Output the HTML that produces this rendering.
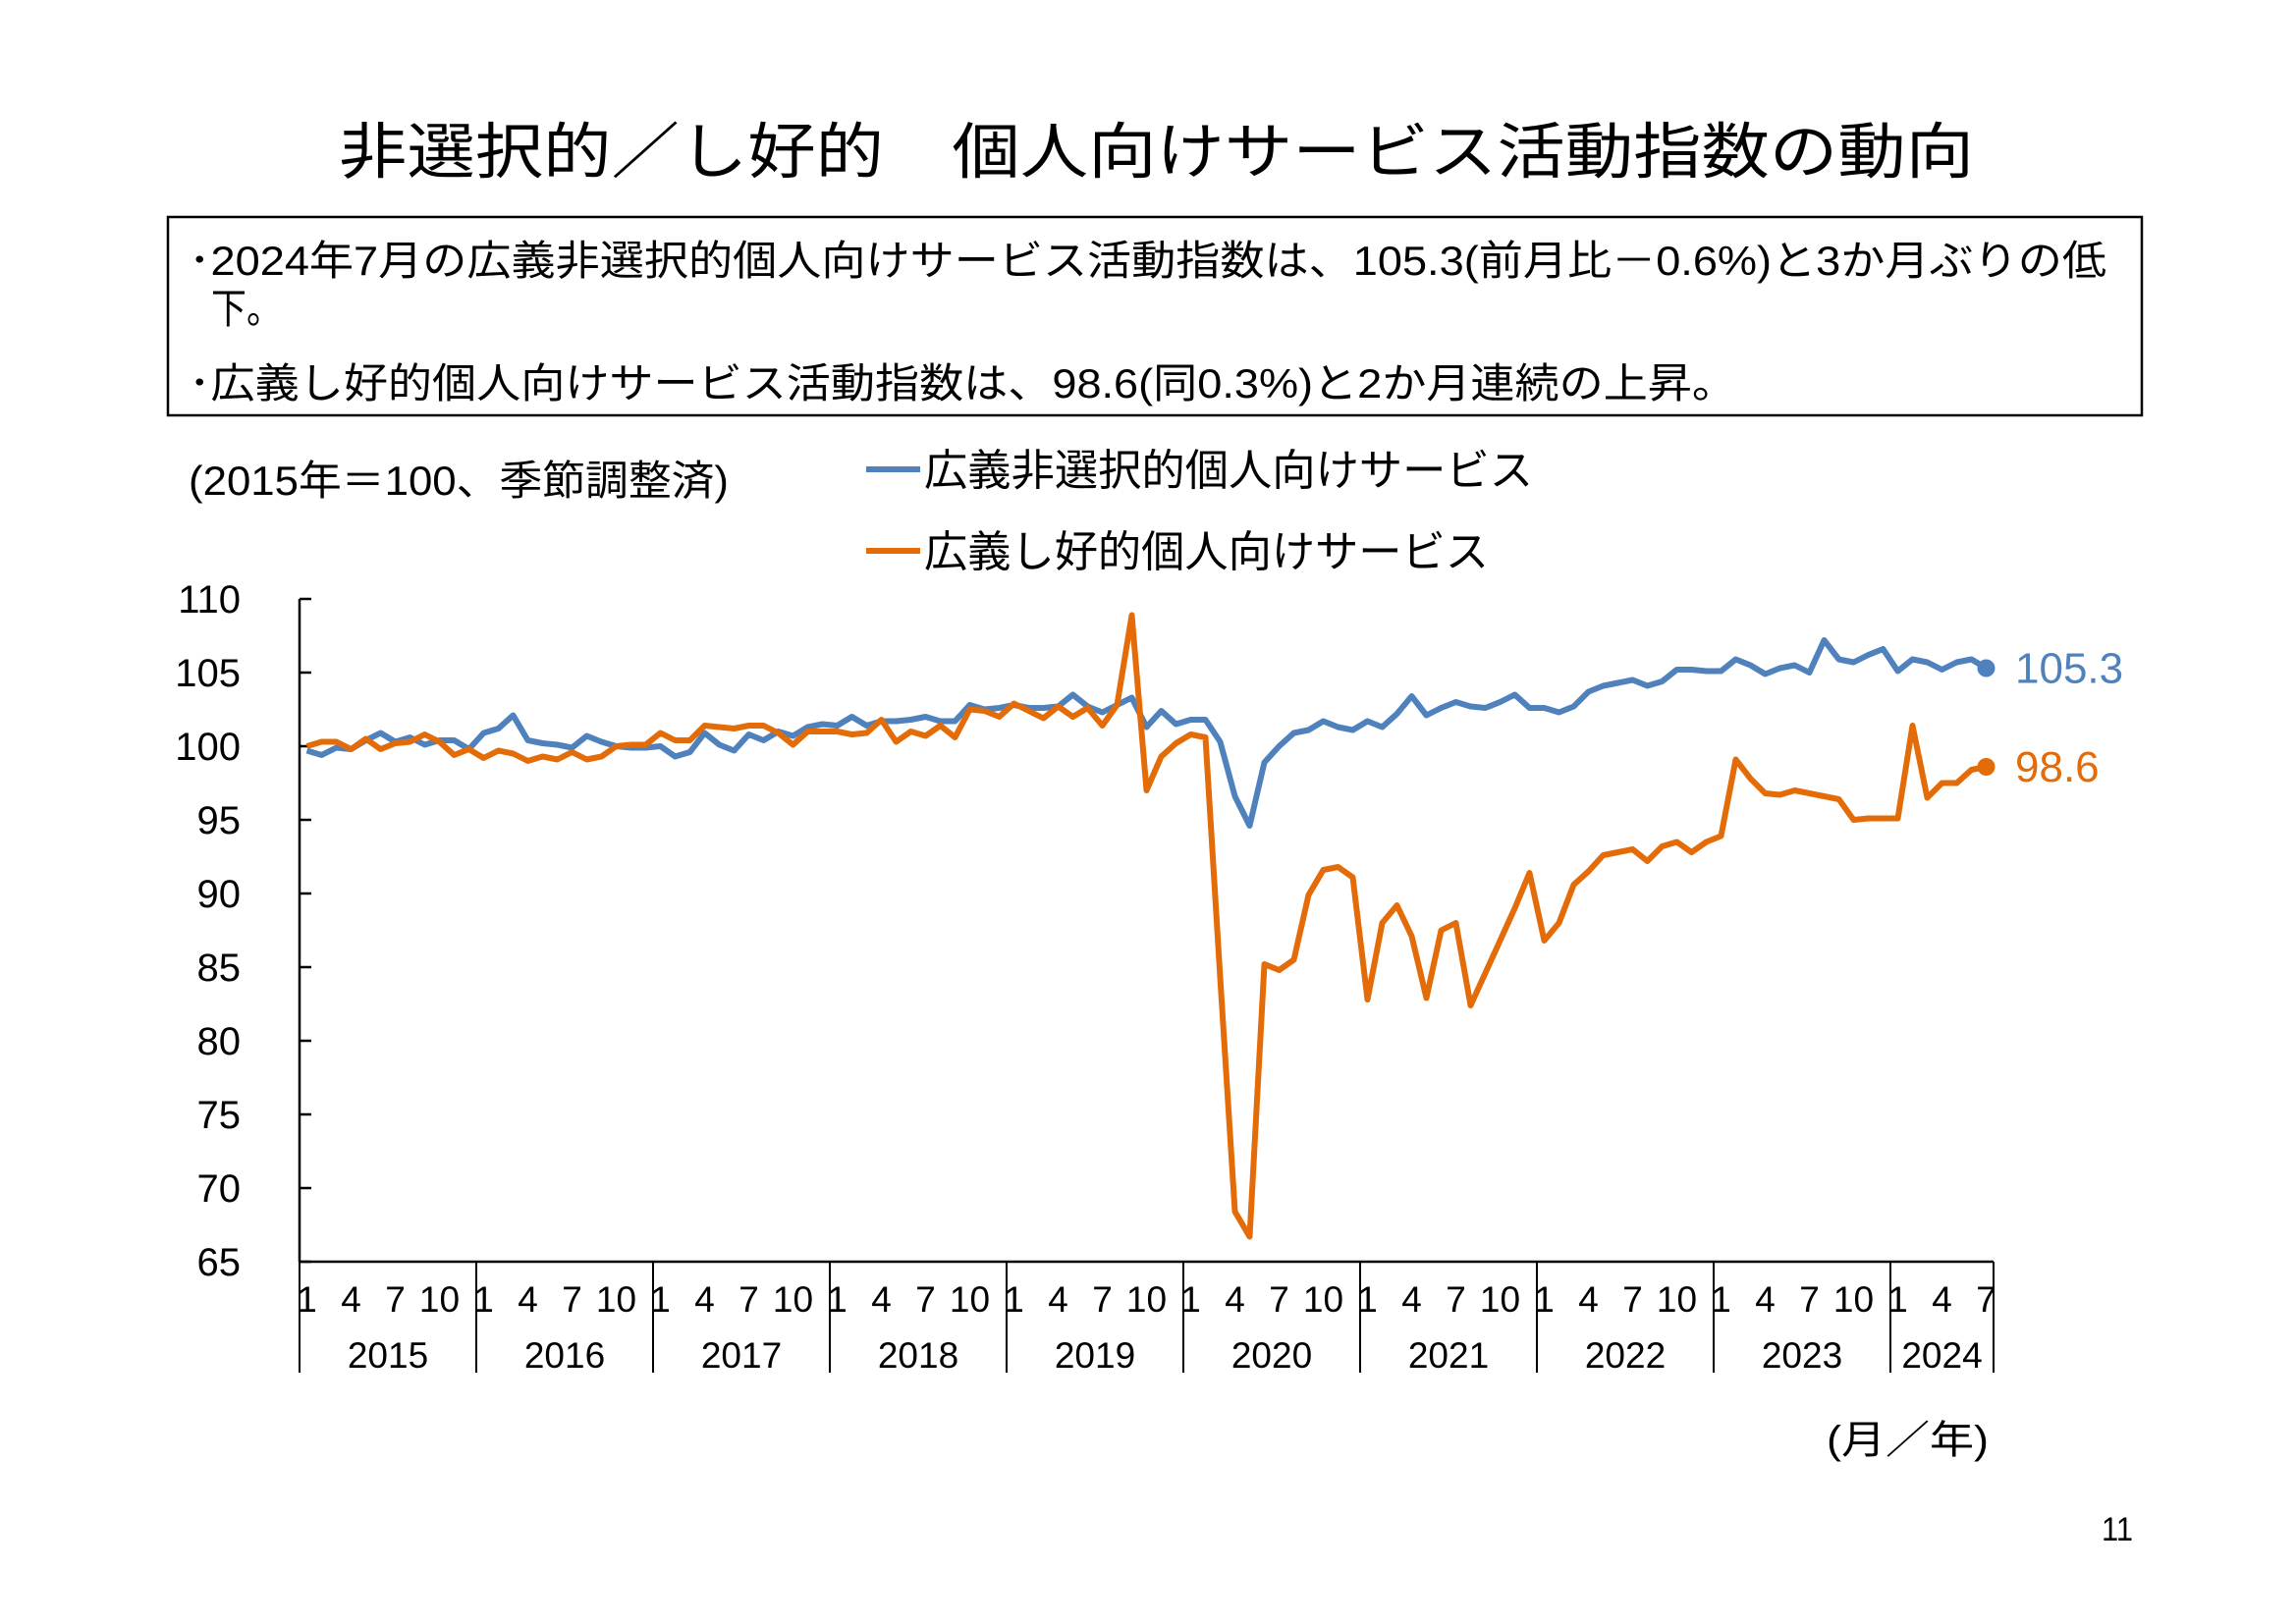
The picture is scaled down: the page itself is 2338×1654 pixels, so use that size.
<!DOCTYPE html>
<html><head><meta charset="utf-8"><style>
html,body{margin:0;padding:0;background:#fff;}
svg{display:block;}
text{font-family:"Liberation Sans","Noto Sans CJK JP",sans-serif;fill:#000;}
</style></head><body>
<svg id="chart" width="2338" height="1654" viewBox="0 0 2338 1654" xmlns="http://www.w3.org/2000/svg">
<rect x="0" y="0" width="2338" height="1654" fill="#fff"/>
<text x="345" y="176" font-size="62" textLength="1665" lengthAdjust="spacingAndGlyphs">非選択的／し好的　個人向けサービス活動指数の動向</text>
<rect x="171" y="221" width="2010" height="202" fill="none" stroke="#000" stroke-width="2.5"/>
<text x="192" y="280" font-size="42" textLength="1953" lengthAdjust="spacingAndGlyphs">･2024年7月の広義非選択的個人向けサービス活動指数は、105.3(前月比－0.6%)と3か月ぶりの低</text>
<text x="215" y="329" font-size="42" textLength="72" lengthAdjust="spacingAndGlyphs">下。</text>
<text x="192" y="405" font-size="42" textLength="1576" lengthAdjust="spacingAndGlyphs">･広義し好的個人向けサービス活動指数は、98.6(同0.3%)と2か月連続の上昇。</text>
<text x="192" y="504" font-size="42" textLength="550" lengthAdjust="spacingAndGlyphs">(2015年＝100、季節調整済)</text>
<g>
<line x1="882" y1="478" x2="937" y2="478" stroke="#4F81BD" stroke-width="6"/>
<text x="941" y="494" font-size="44" textLength="620" lengthAdjust="spacingAndGlyphs">広義非選択的個人向けサービス</text>
</g>
<g>
<line x1="882" y1="561" x2="937" y2="561" stroke="#E36C09" stroke-width="6"/>
<text x="941" y="577" font-size="44" textLength="575" lengthAdjust="spacingAndGlyphs">広義し好的個人向けサービス</text>
</g>
<g id="axes"></g>
<g id="series"></g>
<text x="1860" y="1480" font-size="40" textLength="165" lengthAdjust="spacingAndGlyphs">(月／年)</text>
<text x="2140" y="1569" font-size="34" textLength="32" lengthAdjust="spacingAndGlyphs">11</text>
</svg>
<script>
const years = ["2015","2016","2017","2018","2019","2020","2021","2022","2023","2024"];
const yTicks = [65,70,75,80,85,90,95,100,105,110];
const monthTicks = [1,4,7,10];
const nonselective = [
99.7,99.4,99.9,99.8,100.4,100.9,100.3,100.6,100.1,100.4,100.4,99.8,
100.9,101.2,102.1,100.4,100.2,100.1,99.9,100.7,100.3,100.0,99.9,99.9,
100.0,99.3,99.6,100.9,100.1,99.7,100.8,100.4,101.0,100.7,101.3,101.5,
101.4,102.0,101.4,101.7,101.7,101.8,102.0,101.7,101.7,102.8,102.5,102.6,
102.8,102.6,102.6,102.7,103.5,102.7,102.3,102.8,103.3,101.3,102.4,101.5,
101.8,101.8,100.3,96.6,94.6,98.9,100.0,100.9,101.1,101.7,101.3,101.1,
101.7,101.3,102.2,103.4,102.1,102.6,103.0,102.7,102.6,103.0,103.5,102.6,
102.6,102.3,102.7,103.7,104.1,104.3,104.5,104.1,104.4,105.2,105.2,105.1,
105.1,105.9,105.5,104.9,105.3,105.5,105.0,107.2,105.9,105.7,106.2,106.6,
105.1,105.9,105.7,105.2,105.7,105.9,105.3];
const discretionary = [
100.0,100.3,100.3,99.8,100.5,99.8,100.2,100.3,100.8,100.3,99.4,99.8,
99.2,99.7,99.5,99.0,99.3,99.1,99.6,99.1,99.3,100.0,100.1,100.1,
100.9,100.4,100.4,101.4,101.3,101.2,101.4,101.4,100.9,100.1,101.0,101.0,
101.0,100.8,100.9,101.8,100.3,101.0,100.7,101.4,100.6,102.5,102.4,102.0,
102.9,102.4,101.9,102.7,102.0,102.6,101.4,102.8,108.9,97.0,99.3,100.2,
100.8,100.6,84.3,68.4,66.7,85.2,84.8,85.5,89.9,91.6,91.8,91.1,
82.8,88.0,89.2,87.1,82.9,87.5,88.0,82.4,84.6,86.8,89.0,91.4,
86.8,88.0,90.6,91.5,92.6,92.8,93.0,92.2,93.2,93.5,92.8,93.5,
93.9,99.1,97.8,96.8,96.7,97.0,96.8,96.6,96.4,95.0,95.1,95.1,
95.1,101.4,96.5,97.5,97.5,98.4,98.6];
const endLabels = ["105.3","98.6"];

const NS="http://www.w3.org/2000/svg";
const X0=305, STEP=15, Y0=1285, YMIN=65, YMAX=110, PLOT_TOP=610;
const nMonths = nonselective.length;
function xPos(i){return X0+STEP*(i+0.5);}
function yPos(v){return Y0-(v-YMIN)*(Y0-PLOT_TOP)/(YMAX-YMIN);}
function mk(tag,attrs,parent){const e=document.createElementNS(NS,tag);for(const k in attrs)e.setAttribute(k,attrs[k]);parent.appendChild(e);return e;}
const axes=document.getElementById('axes');
const xEnd = X0+STEP*nMonths;
let yl=mk('line',{x1:X0,y1:PLOT_TOP,x2:X0,y2:Y0,stroke:'#000','stroke-width':2.5},axes);


let xl=mk('line',{x1:X0,y1:Y0,x2:xEnd,y2:Y0,stroke:'#000','stroke-width':2.5},axes);


yTicks.forEach(v=>{
  const y=yPos(v);
  mk('line',{x1:X0,y1:y,x2:X0+12,y2:y,stroke:'#000','stroke-width':2.5},axes);
  const t=mk('text',{x:245,y:y+14,'font-size':40,'text-anchor':'end'},axes);
  
  
  t.textContent=String(v);
});
years.forEach((yr,k)=>{
  const start=k*12;
  const count=Math.min(12,nMonths-start);
  const xs=X0+STEP*start;
  mk('line',{x1:xs,y1:Y0,x2:xs,y2:1398,stroke:'#000','stroke-width':2},axes);
  monthTicks.forEach(m=>{
    if(m-1<count){
      const t=mk('text',{x:xPos(start+m-1),y:1336,'font-size':37,'text-anchor':'middle'},axes);
      
      
      t.textContent=String(m);
    }
  });
  const yt=mk('text',{x:xs+STEP*count/2,y:1393,'font-size':37,'text-anchor':'middle'},axes);
  
  
  yt.textContent=yr;
});
mk('line',{x1:xEnd,y1:Y0,x2:xEnd,y2:1398,stroke:'#000','stroke-width':2},axes);

const ser=document.getElementById('series');
[[nonselective,'#4F81BD','nonselective-line',endLabels[0]],[discretionary,'#E36C09','discretionary-line',endLabels[1]]].forEach(([arr,col,name,lab])=>{
  const d=arr.map((v,i)=>(i?'L':'M')+xPos(i).toFixed(1)+' '+yPos(v).toFixed(1)).join(' ');
  const p=mk('path',{d:d,fill:'none',stroke:col,'stroke-width':6,'stroke-linejoin':'round'},ser);
  
  
  const li=arr.length-1;
  const c=mk('circle',{cx:xPos(li),cy:yPos(arr[li]),r:9,fill:col},ser);
  
  
  const t=mk('text',{x:2052,y:yPos(arr[li])+15,'font-size':44,style:'fill:'+col},ser);
  
  
  t.textContent=lab;
});
</script>
</body></html>
